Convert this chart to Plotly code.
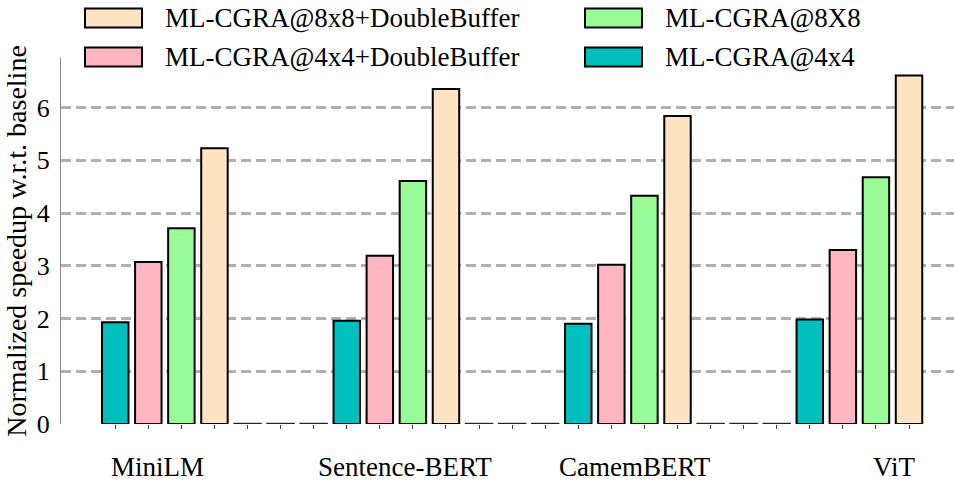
import plotly.graph_objects as go

# ---------------- data ----------------
categories = ["MiniLM", "Sentence-BERT", "CamemBERT", "ViT"]
series_names = ["ML-CGRA@4x4", "ML-CGRA@4x4+DoubleBuffer", "ML-CGRA@8X8", "ML-CGRA@8x8+DoubleBuffer"]
speedup_4x4 = [1.93, 1.96, 1.90, 1.98]
speedup_4x4_db = [3.07, 3.19, 3.02, 3.30]
speedup_8x8 = [3.71, 4.61, 4.33, 4.68]
speedup_8x8_db = [5.23, 6.35, 5.84, 6.61]
spacer_values = [0, 0, 0]          # empty (zero-height) bars between groups
y_tick_values = [0, 1, 2, 3, 4, 5, 6]

# ---------------- style / layout ----------------
colors = ["#00BFBF", "#FFB6C1", "#98FB98", "#FFE4C4"]
FONT = "Liberation Serif"
W, H = 954, 482
ML, MR, MT, MB = 61, 0, 58, 58
GROUP_STRIDE = 7
BAR_W = 0.8
X_RANGE = [-1.64, 25.36]
Y_RANGE = [0, 6.94]
label_offsets = [1.27, 1.75, 1.72, 2.55]   # where each category name sits inside its group
ZERO_BAR_HAIRLINE = 0.004                  # lets the outline of an empty bar show

series_values = [speedup_4x4, speedup_4x4_db, speedup_8x8, speedup_8x8_db]

fig = go.Figure()
for s, (name, vals, col) in enumerate(zip(series_names, series_values, colors)):
    xs = [g * GROUP_STRIDE + s for g in range(len(categories))]
    fig.add_trace(go.Bar(
        x=xs, y=vals, name=name, width=BAR_W,
        marker=dict(color=col, line=dict(color="black", width=2)),
        showlegend=False,
    ))

# empty bars between groups (drawn as outlines on the baseline)
gap_x, gap_y = [], []
for g in range(len(categories) - 1):
    for k, v in enumerate(spacer_values):
        gap_x.append(g * GROUP_STRIDE + len(series_names) + k)
        gap_y.append(max(v, ZERO_BAR_HAIRLINE))
fig.add_trace(go.Bar(
    x=gap_x, y=gap_y, width=BAR_W, base=0,
    marker=dict(color="white", line=dict(color="#222222", width=2)),
    showlegend=False, hoverinfo="skip",
))

n_slots = (len(categories) - 1) * GROUP_STRIDE + len(series_names)

plot_w = W - ML - MR
plot_h = H - MT - MB


def px_x(p):
    return (p - ML) / plot_w


def px_y(p):
    return (H - MB - p) / plot_h


# category labels below the axis
annotations = []
for g, (cat, off) in enumerate(zip(categories, label_offsets)):
    annotations.append(dict(
        x=g * GROUP_STRIDE + off, y=px_y(467), xref="x", yref="paper",
        text=cat, showarrow=False, xanchor="center", yanchor="middle",
        font=dict(family=FONT, size=27, color="black"),
    ))

# manual legend (2 columns, matplotlib-style large patches)
legend_order = [3, 2, 1, 0]  # 8x8+DB, 8X8 (row 1), 4x4+DB, 4x4 (row 2)
col_x = [85, 585]
row_y = [18, 57]
shapes = []
positions = [(0, 0), (1, 0), (0, 1), (1, 1)]
for idx, (c, r) in zip(legend_order, positions):
    x0 = col_x[c]
    yc = row_y[r]
    shapes.append(dict(
        type="rect", xref="paper", yref="paper",
        x0=px_x(x0), x1=px_x(x0 + 57), y0=px_y(yc + 9.5), y1=px_y(yc - 9.5),
        fillcolor=colors[idx], line=dict(color="black", width=2), layer="above",
    ))
    annotations.append(dict(
        x=px_x(x0 + 78), y=px_y(yc), xref="paper", yref="paper",
        text=series_names[idx], showarrow=False, xanchor="left", yanchor="middle",
        font=dict(family=FONT, size=27, color="black"),
    ))

fig.update_layout(
    width=W, height=H,
    margin=dict(l=ML, r=MR, t=MT, b=MB),
    paper_bgcolor="white", plot_bgcolor="white",
    bargap=0.2,
    font=dict(family=FONT, color="black"),
    shapes=shapes, annotations=annotations,
    xaxis=dict(
        range=X_RANGE, tickvals=list(range(n_slots)), ticktext=[""] * n_slots,
        ticks="outside", ticklen=4, tickwidth=1, tickcolor="#444444",
        showgrid=False, zeroline=False, showline=False,
    ),
    yaxis=dict(
        range=Y_RANGE, tickvals=y_tick_values,
        tickfont=dict(family=FONT, size=26, color="black"),
        showgrid=True, gridcolor="#b0b0b0", gridwidth=2.5, griddash="10px,5px",
        zeroline=False, showline=True, linecolor="#888888", linewidth=1,
        ticks="", ticklabelstandoff=5,
        title=dict(text="Normalized speedup w.r.t. baseline",
                   font=dict(family=FONT, size=28, color="black"), standoff=1),
    ),
)

fig.write_html("out.html")
